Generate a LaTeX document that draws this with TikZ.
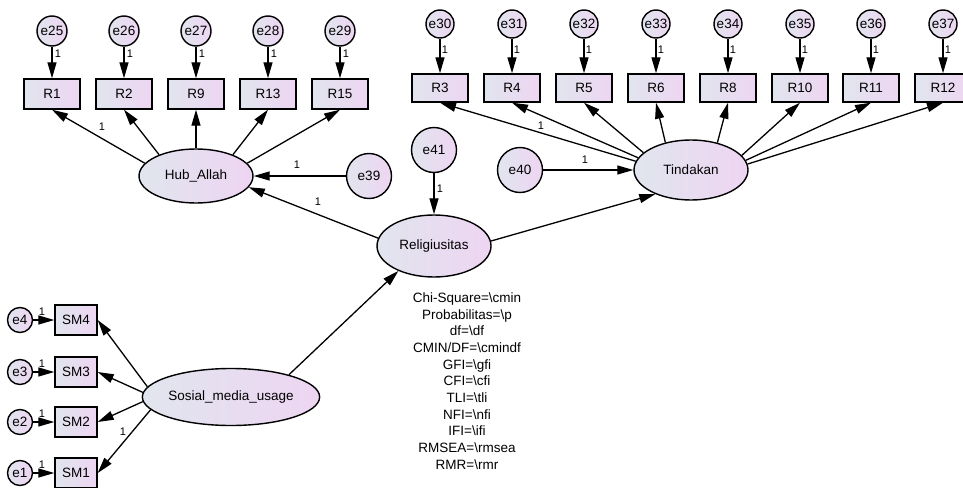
\documentclass[tikz,border=0pt]{standalone}
\usepackage{fontspec}
\setmainfont{Liberation Sans}
\usetikzlibrary{arrows.meta,shapes.geometric}
\definecolor{fa}{HTML}{E1E5EE}
\definecolor{fb}{HTML}{EED5F2}
\tikzset{
  shade2/.style={left color=fa, right color=fb, draw=black, line width=1.4pt},
  obs/.style={shade2, rectangle, inner sep=0pt, minimum width=56pt, minimum height=30pt, font=\fontsize{13.5}{13.5}\selectfont},
  obsr/.style={obs, minimum height=28pt},
  obss/.style={obs, minimum width=42pt},
  lat/.style={shade2, ellipse, inner sep=0pt, minimum width=114pt, minimum height=56pt, font=\fontsize{13.5}{13.5}\selectfont},
  err/.style={shade2, circle, inner sep=0pt, minimum size=30pt, font=\fontsize{13.5}{13.5}\selectfont},
  errr/.style={err, minimum size=28pt},
  errb/.style={err, minimum size=45pt},
  errs/.style={err, minimum size=25pt},
  arr/.style={line width=1.3pt, -{Triangle[length=16pt,width=9pt]}},
  one/.style={inner sep=0pt, font=\fontsize{11}{11}\selectfont}
}
\begin{document}
\begin{tikzpicture}[x=1pt,y=-1pt]
\useasboundingbox (0,0) rectangle (963,487);

% left top row
\foreach \n/\r/\x in {e25/R1/52,e26/R2/124,e27/R9/196,e28/R13/268,e29/R15/340}{
  \node[err] (\n) at (\x,31) {\n};
  \node[obs] (\r) at (\x,94) {\r};
  \draw[arr] (\n) -- (\r);
  \node[one] (l\n) at (\x+6,54) {1};
}
% right top row
\foreach \n/\r/\x in {e30/R3/440,e31/R4/512,e32/R5/584,e33/R6/656,e34/R8/728,e35/R10/800,e36/R11/871,e37/R12/943}{
  \node[errr] (\n) at (\x,24) {\n};
  \node[obsr] (\r) at (\x,88) {\r};
  \draw[arr] (\n) -- (\r);
  \node[one] (l\n) at (\x+5,50) {1};
}

% latent variables
\node[lat, minimum height=54pt] (hub) at (196,176) {Hub\_Allah};
\node[lat, minimum height=62pt] (rel) at (434,246) {Religiusitas};
\node[lat, minimum height=60pt] (tin) at (691,170) {Tindakan};
\node[lat, minimum width=150pt, minimum height=57pt] (sos) at (231,397) {Sosial\_media\_usage};

\node[errb] (e39) at (369,176) {e39};
\node[errb] (e41) at (434,150) {e41};
\node[errb] (e40) at (520,170) {e40};

% Hub_Allah loadings
\draw[arr] (hub.166) -- (R1.south);
\draw[arr] (hub.150) -- (R2.south);
\draw[arr] (hub.north) -- (R9.south);
\draw[arr] (hub.30) -- (R13.south);
\draw[arr] (hub.14) -- (R15.south);
\node[one] (lh1) at (102,127) {1};

% Tindakan loadings
\draw[arr] (tin.171) -- (R3.south);
\draw[arr] (tin.167) -- (R4.south);
\draw[arr] (tin.160) -- (R5.south);
\draw[arr] (tin.133) -- (R6.south);
\draw[arr] (tin.46) -- (R8.south);
\draw[arr] (tin.16) -- (R10.south);
\draw[arr] (tin.10) -- (R11.south);
\draw[arr] (tin.6) -- (R12.south);
\node[one] (lt1) at (541,126) {1};

% structural
\draw[arr] (e39) -- (hub.east);
\node[one] (l39) at (297,165) {1};
\draw[arr] (rel.172) -- (hub.-12);
\node[one] (lrh) at (318,202) {1};
\draw[arr] (e41) -- (rel.north);
\node[one] (l41) at (440,189) {1};
\draw[arr] (e40) -- (tin.west);
\node[one] (l40) at (585,160) {1};
\draw[arr] (rel.5) -- (tin.214);
\draw[arr] (sos.21) -- (rel.215);

% Sosial media usage
\foreach \n/\r/\y/\a in {e4/SM4/320/173,e3/SM3/372/177,e2/SM2/422/183,e1/SM1/473/189}{
  \node[errs] (\n) at (20,\y) {\n};
  \node[obss] (\r) at (76,\y) {\r};
  \draw[arr] (\n) -- (\r);
  \node[one] (l\n) at (42,\y-8) {1};
  \draw[arr] (sos.\a) -- (\r.east);
}
\node[one] (ls1) at (123,432) {1};

% fit text
\node[inner sep=0pt, align=center, font=\fontsize{13.5}{16.7}\selectfont] (fit) at (467,381) {%
Chi-Square=\textbackslash cmin\\
Probabilitas=\textbackslash p\\
df=\textbackslash df\\
CMIN/DF=\textbackslash cmindf\\
GFI=\textbackslash gfi\\
CFI=\textbackslash cfi\\
TLI=\textbackslash tli\\
NFI=\textbackslash nfi\\
IFI=\textbackslash ifi\\
RMSEA=\textbackslash rmsea\\
RMR=\textbackslash rmr};
\end{tikzpicture}
\end{document}
